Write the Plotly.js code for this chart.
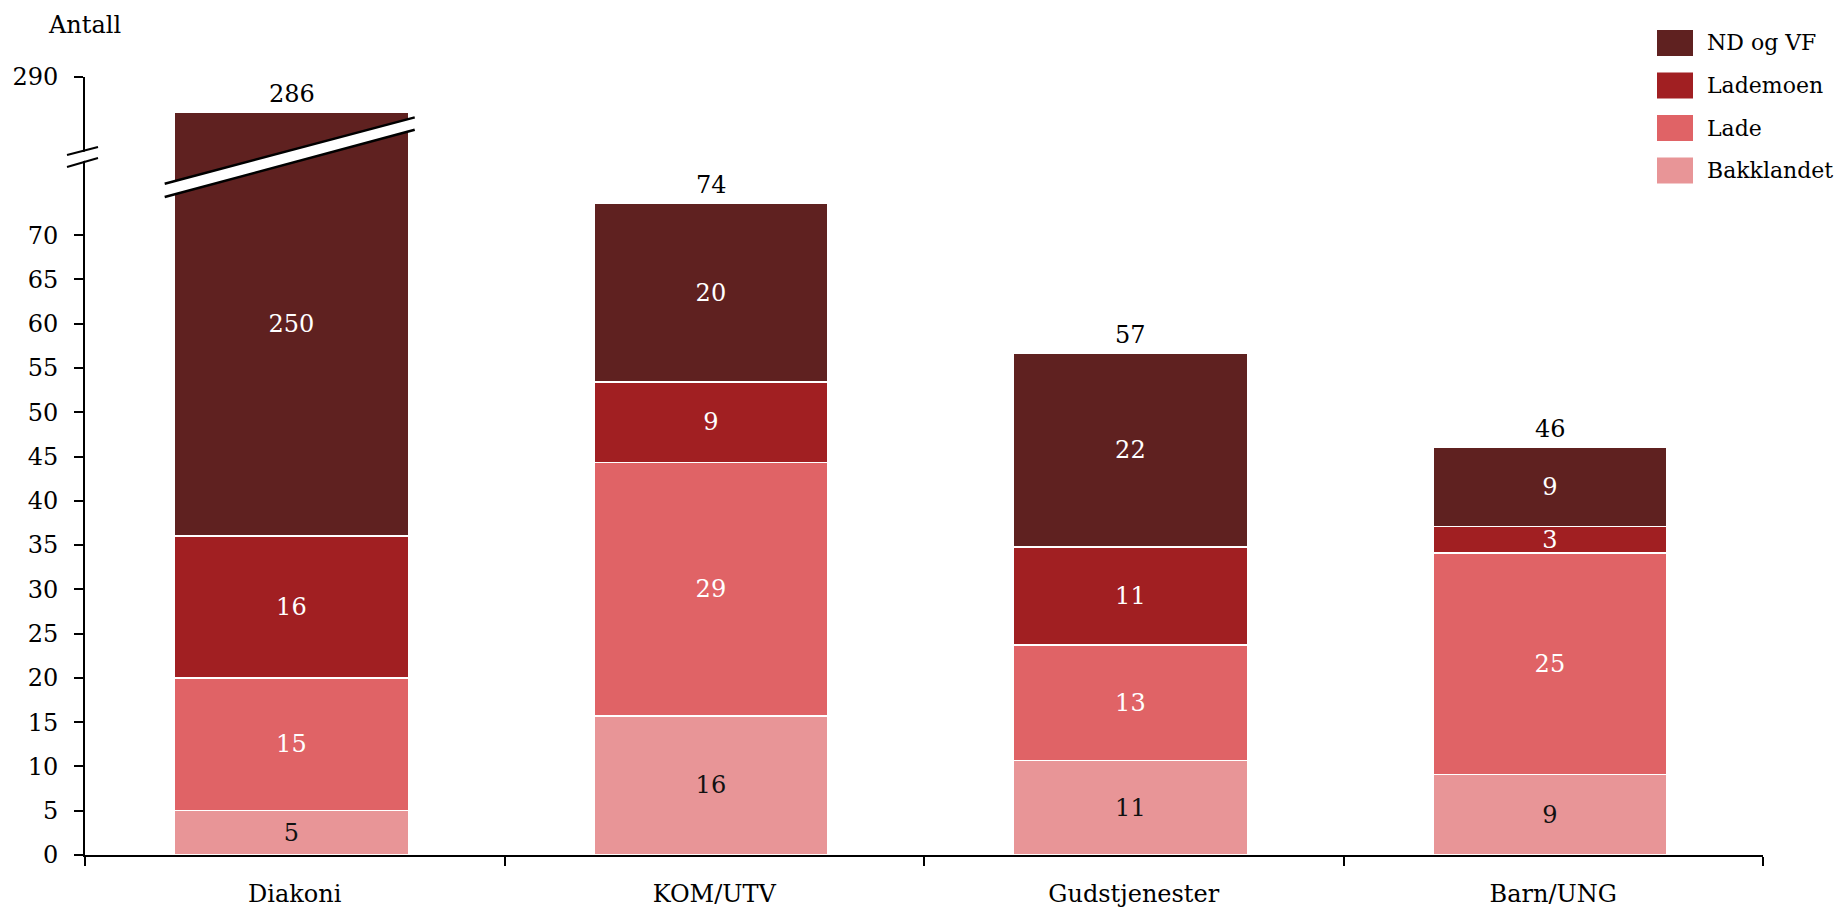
<!DOCTYPE html>
<html>
<head>
<meta charset="utf-8">
<script src="https://cdn.plot.ly/plotly-3.0.1.min.js"></script>
<style>html,body{margin:0;padding:0;background:#fff;}#chart{width:1843px;height:910px;}</style>
</head>
<body>
<div id="chart"></div>
<script>
// ---- data (labels are rounded) ----
const categories = ['Diakoni', 'KOM/UTV', 'Gudstjenester', 'Barn/UNG'];
const bakklandet = [5, 15.7, 10.7, 9.1];
const lade = [15, 28.6, 13.0, 25.0];
const lademoen = [16, 9.1, 11.1, 3.0];
const ndOgVf = [250, 20.2, 21.9, 9.0];
const seriesNames = ['Bakklandet', 'Lade', 'Lademoen', 'ND og VF'];
const seriesColors = ['#E89597', '#E06366', '#A11F22', '#5F2120'];
const seriesTextColors = ['#111111', '#ffffff', '#ffffff', '#ffffff'];
const yTickValues = [0, 5, 10, 15, 20, 25, 30, 35, 40, 45, 50, 55, 60, 65, 70];
const yTopTick = 290;
const yAxisTitle = 'Antall';

// ---- broken axis mapping ----
const W = 1843, H = 910;
const M = {l: 85, r: 80, t: 77, b: 55};
const plotW = W - M.l - M.r, plotH = H - M.t - M.b;
const TOP_POS = 87.86;                // axis position of the 290 tick
const OFFSET = yTopTick - TOP_POS;
const BREAK_ABOVE = 100;
function disp(v) { return v > BREAK_ABOVE ? v - OFFSET : v; }
const X = px => (px - M.l) / plotW;
const Y = py => (H - M.b - py) / plotH;

const series = [bakklandet, lade, lademoen, ndOgVf];
const bases = categories.map(() => 0);
const FONT = 'DejaVu Serif, Georgia, serif';
const FS = 24;
const LEGEND_FS = 22;
const BAR_W = 0.558, BAR_OFF = -0.287;

const traces = series.map((vals, i) => {
  const y = vals.map((v, j) => {
    const b = bases[j];
    const h = disp(b + v) - disp(b);
    bases[j] = b + v;
    return h;
  });
  return {
    type: 'bar', name: seriesNames[i], x: categories, y: y,
    width: BAR_W, offset: BAR_OFF,
    text: vals.map(v => String(Math.round(v))), textposition: 'inside', insidetextanchor: 'middle',
    textangle: 0, constraintext: 'none',
    textfont: {family: FONT, size: FS, color: seriesTextColors[i]},
    marker: {color: seriesColors[i], line: {color: '#ffffff', width: 1.5}},
    hovertemplate: '%{x}<br>' + seriesNames[i] + ': %{text}<extra></extra>',
    showlegend: false
  };
});
const totals = categories.map((c, j) => series.reduce((s, a) => s + a[j], 0));

const annotations = totals.map((t, j) => ({
  x: categories[j], y: disp(t), xref: 'x', yref: 'y', text: String(Math.round(t)),
  showarrow: false, yanchor: 'bottom', yshift: 2, xshift: -3,
  font: {family: FONT, size: FS, color: '#000'}
}));
annotations.push({xref: 'paper', yref: 'paper', x: X(46), y: Y(25), xanchor: 'left', yanchor: 'middle',
  text: yAxisTitle, showarrow: false, font: {family: FONT, size: FS, color: '#000'}});

const shapes = [];
// custom legend (top to bottom: reversed series order)
const legendOrder = [3, 2, 1, 0];
legendOrder.forEach((si, k) => {
  const cy = 43 + k * 42.5;
  shapes.push({type: 'rect', xref: 'paper', yref: 'paper', x0: X(1657), x1: X(1693), y0: Y(cy - 13), y1: Y(cy + 13),
    fillcolor: seriesColors[si], line: {width: 0}});
  annotations.push({xref: 'paper', yref: 'paper', x: X(1705), y: Y(cy), xanchor: 'left', yanchor: 'middle',
    text: seriesNames[si], showarrow: false, font: {family: FONT, size: LEGEND_FS, color: '#000'}});
});

// break mark across the tall bar
const bi = totals.findIndex(t => t > BREAK_ABOVE);
if (bi >= 0) {
  const xl = bi - 0.31, xr = bi + 0.286;
  shapes.push({type: 'line', xref: 'x', yref: 'y', x0: xl, x1: xr, y0: 75.05, y1: 82.6, line: {color: '#fff', width: 12}});
  shapes.push({type: 'line', xref: 'x', yref: 'y', x0: xl, x1: xr, y0: 74.3, y1: 81.9, line: {color: '#000', width: 2.5}});
  shapes.push({type: 'line', xref: 'x', yref: 'y', x0: xl, x1: xr, y0: 75.8, y1: 83.3, line: {color: '#000', width: 2.5}});
}
// break mark on the y axis
shapes.push({type: 'line', xref: 'paper', yref: 'paper', x0: X(67), x1: X(98), y0: Y(161), y1: Y(152.5), line: {color: '#fff', width: 9}});
shapes.push({type: 'line', xref: 'paper', yref: 'paper', x0: X(67), x1: X(98), y0: Y(155), y1: Y(147), line: {color: '#000', width: 2}});
shapes.push({type: 'line', xref: 'paper', yref: 'paper', x0: X(67), x1: X(98), y0: Y(167), y1: Y(158), line: {color: '#000', width: 2}});

const layout = {
  width: W, height: H, margin: M,
  paper_bgcolor: '#fff', plot_bgcolor: '#fff',
  barmode: 'stack',
  showlegend: false,
  font: {family: FONT, size: FS, color: '#000'},
  xaxis: {
    type: 'category', range: [-0.5, 3.5], showline: true, linecolor: '#000', linewidth: 2,
    ticks: 'outside', tickson: 'boundaries', ticklen: 9, tickwidth: 1.5, tickcolor: '#000',
    ticklabelstandoff: 16, showgrid: false, zeroline: false, fixedrange: true,
    tickfont: {family: FONT, size: FS, color: '#000'}
  },
  yaxis: {
    range: [0, TOP_POS], showline: true, linecolor: '#000', linewidth: 2,
    ticks: 'outside', ticklen: 9, tickwidth: 1.5, tickcolor: '#000',
    tickvals: yTickValues.concat([TOP_POS]), ticktext: yTickValues.map(String).concat([String(yTopTick)]),
    ticklabelstandoff: 11, showgrid: false, zeroline: false, fixedrange: true,
    tickfont: {family: FONT, size: FS, color: '#000'}
  },
  annotations: annotations,
  shapes: shapes
};
Plotly.newPlot('chart', traces, layout, {displayModeBar: false, responsive: false});
</script>
</body>
</html>
